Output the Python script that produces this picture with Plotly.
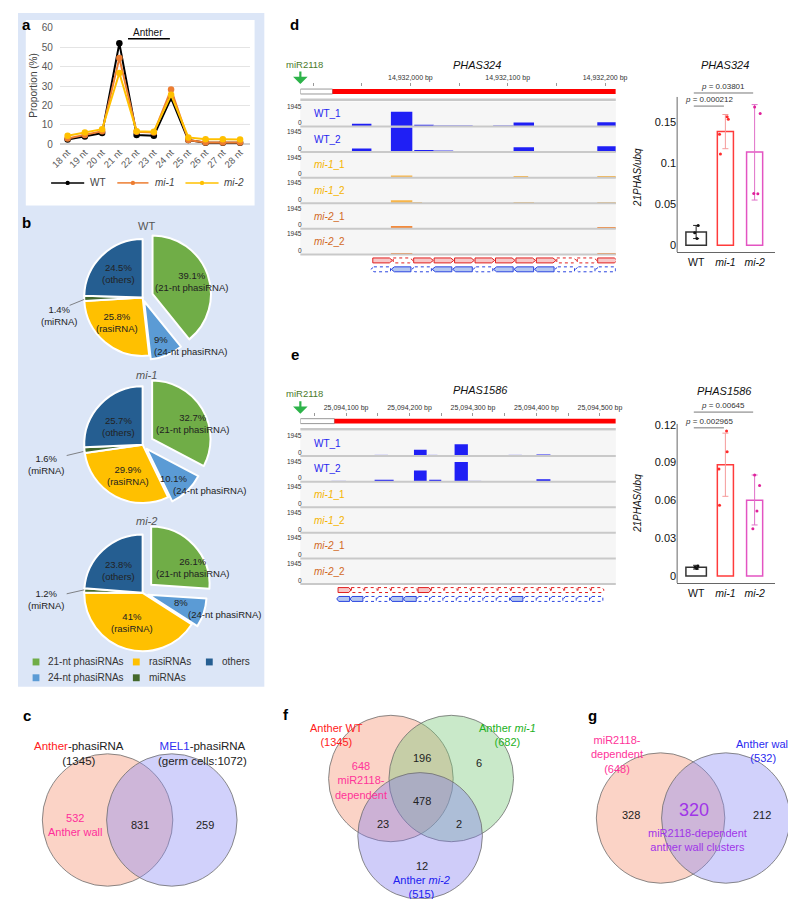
import plotly.graph_objects as go

W, H = 796, 899
FONT = "Liberation Sans, Arial, Helvetica, sans-serif"


def X(p):
    return p / W


def Y(p):
    return 1 - p / H


# ======================= DATA =======================
# panel a: size distribution
size_classes = ["18 nt", "19 nt", "20 nt", "21 nt", "22 nt", "23 nt",
                "24 nt", "25 nt", "26 nt", "27 nt", "28 nt"]
prop_wt = [2.5, 4.1, 5.8, 52.0, 4.8, 4.4, 23.8, 2.2, 0.8, 0.8, 0.8]
prop_mi1 = [3.0, 4.8, 6.8, 44.4, 6.5, 6.1, 28.2, 2.2, 1.0, 1.0, 1.0]
prop_mi2 = [4.4, 6.1, 7.8, 36.7, 6.8, 6.5, 25.5, 3.6, 2.7, 2.6, 2.5]
line_names = ["WT", "<i>mi-1</i>", "<i>mi-2</i>"]

# panel b: composition pies
pie_categories = ["21-nt phasiRNA", "24-nt phasiRNA", "rasiRNA", "miRNA", "others"]
pie_wt = [39.1, 9, 25.8, 1.4, 24.5]
pie_mi1 = [32.7, 10.1, 29.9, 1.6, 25.7]
pie_mi2 = [26.1, 8, 41, 1.2, 23.8]
pie_titles = ["WT", "<i>mi-1</i>", "<i>mi-2</i>"]
legend_b_labels = ["21-nt phasiRNAs", "rasiRNAs", "others", "24-nt phasiRNAs", "miRNAs"]

# panel c venn
venn_c_counts = [532, 831, 259]
venn_c_totals = [1345, 1072]
# panel f venn: WT only, WT&mi1, mi1 only, all, WT&mi2, mi1&mi2, mi2 only
venn_f_counts = [648, 196, 6, 478, 23, 2, 12]
venn_f_totals = [1345, 682, 515]
# panel g venn
venn_g_counts = [328, 320, 212]
venn_g_totals = [648, 532]

# qPCR panels d / e
qpcr_genotypes = ["WT", "<i>mi-1</i>", "<i>mi-2</i>"]
d_mean = [0.0161, 0.1388, 0.1138]
d_err_hi = [0.0241, 0.1597, 0.1718]
d_err_lo = [0.0080, 0.1179, 0.0551]
d_points = [[0.024, 0.015, 0.008], [0.157, 0.154, 0.1356, 0.1114], [0.169, 0.161, 0.0632, 0.0628]]
d_jitter = [[0.07, -0.05, 0.03], [0.06, 0.1, -0.2, -0.17], [0.0, 0.19, -0.03, 0.11]]
d_pvals = ["0.000212", "0.03801"]
d_p_heights = [0.170, 0.186]

e_mean = [0.0070, 0.0882, 0.0600]
e_err_hi = [0.0085, 0.1133, 0.0801]
e_err_lo = [0.0055, 0.0632, 0.0405]
e_points = [[0.008, 0.007, 0.006], [0.115, 0.0985, 0.0849, 0.0562], [0.0801, 0.0718, 0.0515, 0.0374]]
e_jitter = [[0.06, -0.04, 0.02], [0.04, 0.06, -0.22, -0.2], [0.0, 0.17, 0.08, -0.06]]
e_pvals = ["0.002965", "0.00645"]
e_p_heights = [0.1175, 0.130]

# IGV browser tracks
igv_tracks = ["WT_1", "WT_2", "<i>mi-1</i>_1", "<i>mi-1</i>_2", "<i>mi-2</i>_1", "<i>mi-2</i>_2"]
igv_max = 1945
d_view = [14931887, 14932211]
d_tick_labels = [14932000, 14932100, 14932200]
d_coverage = [
    [(14931940, 14931960, 215), (14931980, 14932002, 1170), (14932004, 14932024, 135),
     (14932024, 14932064, 70), (14932085, 14932106, 70), (14932106, 14932127, 310),
     (14932192, 14932211, 330)],
    [(14931940, 14931960, 290), (14931980, 14932002, 1945), (14932004, 14932024, 130),
     (14932024, 14932044, 80), (14932074, 14932087, 50), (14932087, 14932106, 70),
     (14932106, 14932127, 390), (14932192, 14932211, 470)],
    [(14931980, 14932002, 175), (14932106, 14932121, 70), (14932192, 14932211, 140)],
    [(14931980, 14932002, 230), (14932002, 14932012, 70), (14932106, 14932127, 70),
     (14932192, 14932211, 90)],
    [(14931980, 14932002, 230), (14932192, 14932211, 75)],
    [(14931980, 14932002, 100), (14932192, 14932211, 100)],
]
d_phase_start = 14931961
d_red_solid = [1, 0, 1, 1, 1, 1, 1, 1, 1, 0, 0, 1]
d_blue_solid = [0, 1, 0, 1, 1, 0, 1, 1, 1, 0, 0, 0]

e_view = [25094028, 25094525]
e_tick_labels = [25094100, 25094200, 25094300, 25094400, 25094500]
e_coverage = [
    [(25094145, 25094166, 78), (25094207, 25094227, 505), (25094229, 25094244, 95),
     (25094271, 25094292, 935), (25094356, 25094377, 78), (25094400, 25094422, 136)],
    [(25094077, 25094100, 78), (25094145, 25094175, 155), (25094207, 25094227, 895),
     (25094231, 25094250, 117), (25094271, 25094292, 1556), (25094292, 25094313, 78),
     (25094400, 25094422, 195)],
    [], [], [], [],
]
e_phase_start = 25094087
e_red_solid = [1, 0, 0, 0, 0, 0, 1, 0, 0, 0, 0, 0, 0, 0, 0, 0, 0, 0, 0, 0]
e_blue_solid = [1, 1, 0, 0, 1, 1, 0, 0, 0, 0, 0, 0, 0, 1, 0, 0, 0, 0, 0, 0]
phase_len = 21

# ======================= FIGURE =======================
fig = go.Figure()
shapes = []
ann = []


def text(x, y, t, size=10, color="#222", xanchor="center", yanchor="middle", angle=0,
         align="center", bold=False):
    if bold:
        t = "<b>" + t + "</b>"
    ann.append(dict(x=X(x), y=Y(y), xref="paper", yref="paper", text=t, showarrow=False,
                    font=dict(size=size, color=color, family=FONT), xanchor=xanchor,
                    yanchor=yanchor, textangle=angle, align=align))


def rect_px(x0, y0, x1, y1, fill, line=None, lw=0, layer="below"):
    shapes.append(dict(type="rect", xref="paper", yref="paper", x0=X(x0), x1=X(x1),
                       y0=Y(y1), y1=Y(y0), fillcolor=fill,
                       line=dict(color=line or fill, width=lw), layer=layer))


def line_px(x0, y0, x1, y1, color="#555", width=1):
    shapes.append(dict(type="line", xref="paper", yref="paper", x0=X(x0), x1=X(x1),
                       y0=Y(y0), y1=Y(y1), line=dict(color=color, width=width)))


def circle_px(cx, cy, r, fill, line="rgba(110,110,110,0.8)", lw=1):
    shapes.append(dict(type="circle", xref="paper", yref="paper", x0=X(cx - r), x1=X(cx + r),
                       y0=Y(cy + r), y1=Y(cy - r), fillcolor=fill,
                       line=dict(color=line, width=lw), layer="above"))


# backgrounds for a/b
rect_px(0, 0, 253, 682, "#DCE6F7")
rect_px(8, 7, 243, 195, "#FFFFFF")

# panel labels
for lab, (lx, ly) in zip("abcdefg", [(9, 12), (9, 212), (9, 711), (284, 12), (284, 346), (275, 710), (590, 711)]):
    text(lx, ly, lab, size=15, color="#000", bold=True)

# ---------------- panel a ----------------
a_colors = ["#000000", "#ED7D31", "#FFC000"]
for name, vals, col in zip(line_names, [prop_wt, prop_mi1, prop_mi2], a_colors):
    fig.add_trace(go.Scatter(x=size_classes, y=vals, name=name, mode="lines+markers",
                             line=dict(color=col, width=2), marker=dict(color=col, size=6.5),
                             cliponaxis=False, xaxis="x", yaxis="y", hoverinfo="skip",
                             showlegend=False))
text(15, 74, "Proportion (%)", size=10, color="#444", angle=-90)
text(134, 20, "Anther", size=10, color="#111")
line_px(113, 26, 156, 26, color="#000", width=1.5)
# manual legend for a
for name, col, (l0, l1, tx) in zip(line_names, a_colors, [(34, 68, 72), (102, 134, 139), (172, 206, 210)]):
    line_px(l0, 172, l1, 172, color=col, width=1.5)
    circle_px((l0 + l1) / 2, 172, 2.2, col, line=col, lw=0)
    text(tx, 172, name, size=10, color="#444", xanchor="left")

# ---------------- panel b ----------------
R = 60
CX = 128
pie_pulls = [[0.18, 0.07, 0, 0, 0], [0.19, 0.1, 0, 0, 0], [0.2, 0.1, 0, 0, 0]]
pie_cy = [288, 437, 587]
pie_title_y = [216, 366, 514]
pie_colors = ["#70AD47", "#5B9BD5", "#FFC000", "#43682B", "#255E91"]
for vals, pull, cy, title, ty in zip([pie_wt, pie_mi1, pie_mi2], pie_pulls, pie_cy, pie_titles, pie_title_y):
    s = 2 * R * (1 + max(pull))
    fig.add_trace(go.Pie(values=vals, labels=pie_categories, sort=False, direction="clockwise",
                         rotation=0, pull=pull, showlegend=False, textinfo="none", hoverinfo="skip",
                         marker=dict(colors=pie_colors, line=dict(color="white", width=2)),
                         domain=dict(x=[X(CX - s / 2), X(CX + s / 2)], y=[Y(cy + s / 2), Y(cy - s / 2)])))
    text(CX + 4, ty, title, size=11, color="#555")


def pct(v):
    return f"{v:g}%"


# pie labels: (others, 21nt, miRNA, rasiRNA)
pie_label_pos = [
    [(103, 264), (178, 272), (42, 306), (102, 313)],
    [(103, 419), (179, 416), (29, 457), (113, 468)],
    [(103, 564), (179, 561), (29, 594), (117, 617)],
]
for vals, pos in zip([pie_wt, pie_mi1, pie_mi2], pie_label_pos):
    text(*pos[0], f"{pct(vals[4])}<br>({pie_categories[4]})", size=9.5)
    text(*pos[1], f"{pct(vals[0])}<br>({pie_categories[0]})", size=9.5)
    text(*pos[2], f"{pct(vals[3])}<br>({pie_categories[3]})", size=9.5)
    text(*pos[3], f"{pct(vals[2])}<br>({pie_categories[2]})", size=9.5)
# 24-nt labels
text(138, 337, f"{pct(pie_wt[1])}<br>({pie_categories[1]})", size=9.5, xanchor="left", align="left")
text(160, 471, pct(pie_mi1[1]), size=9.5)
text(197, 483, f"({pie_categories[1]})", size=9.5)
text(167, 597, pct(pie_mi2[1]), size=9.5)
text(212, 609, f"({pie_categories[1]})", size=9.5)
# leader lines for miRNA
line_px(53, 296, 68, 290, color="#666", width=0.8)
line_px(50, 448, 67, 444, color="#666", width=0.8)
line_px(50, 588, 68, 584, color="#666", width=0.8)

# legend for b
leg_pos = [(15, 657), (118, 657), (193, 657), (15, 673), (118, 673)]
leg_cols = ["#70AD47", "#FFC000", "#255E91", "#5B9BD5", "#43682B"]
for lab, (lx, ly), col in zip(legend_b_labels, leg_pos, leg_cols):
    rect_px(lx, ly - 3.5, lx + 7, ly + 3.5, col)
    text(lx + 14, ly, lab, size=10, color="#333", xanchor="left")

# ---------------- panel c ----------------
circle_px(92, 817, 67, "rgba(245,150,120,0.42)")
circle_px(158, 817, 67, "rgba(140,140,245,0.40)")
text(63, 750, f"<span style='color:#FF2020'>Anther</span>-phasiRNA<br>({venn_c_totals[0]})", size=11.5)
text(190, 750, f"<span style='color:#3030F0'>MEL1</span>-phasiRNA<br>(germ cells:{venn_c_totals[1]})", size=11.5)
text(59, 822, f"{venn_c_counts[0]}<br>Anther wall", size=11, color="#FF2D9B")
text(125, 822, str(venn_c_counts[1]), size=11)
text(192, 822, str(venn_c_counts[2]), size=11)

# ---------------- panel f ----------------
circle_px(383, 775, 64, "rgba(245,150,120,0.42)")
circle_px(445, 775, 64, "rgba(120,200,120,0.40)")
circle_px(413, 833, 64, "rgba(130,120,240,0.38)")
text(327, 731, f"Anther WT<br>({venn_f_totals[0]})", size=11, color="#FF2020")
text(503, 731, f"Anther <i>mi-1</i><br>({venn_f_totals[1]})", size=11, color="#1DB11D")
text(414, 885, f"Anther <i>mi-2</i><br>({venn_f_totals[2]})", size=11, color="#2020F0")
text(352, 777, f"{venn_f_counts[0]}<br>miR2118-<br>dependent", size=11, color="#FF3399")
f_pos = [None, (415, 754), (473, 759), (415, 798), (375, 821), (453, 821), (415, 864)]
for cnt, p in zip(venn_f_counts, f_pos):
    if p is not None:
        text(p[0], p[1], str(cnt), size=11)

# ---------------- panel g ----------------
circle_px(660, 815, 66, "rgba(245,150,120,0.42)")
circle_px(727, 815, 66, "rgba(140,140,245,0.40)")
text(615, 751, f"miR2118-<br>dependent<br>({venn_g_totals[0]})", size=11, color="#FF3399")
text(765, 747, f"Anther wall<br>({venn_g_totals[1]})", size=11, color="#2A2AF0")
text(630, 812, str(venn_g_counts[0]), size=11)
text(694, 807, str(venn_g_counts[1]), size=18, color="#A035E8")
text(764, 812, str(venn_g_counts[2]), size=11)
text(698, 837, "miR2118-dependent<br>anther wall clusters", size=11, color="#A035E8")

# ---------------- IGV panels ----------------
TH = 25.9
track_colors = ["#1F1FF5", "#1F1FF5", "#F7B548", "#F7B548", "#F28A3C", "#F28A3C"]
track_light = ["#9A9AF2", "#9A9AF2", "#F7B548", "#F7B548", "#F28A3C", "#F28A3C"]
label_colors = ["#2626F0", "#2626F0", "#F5B400", "#F5B400", "#D2691E", "#D2691E"]
layout_axes = {}


def add_igv(n, T0, view, tick_labels, coverage, phase_start, red_solid, blue_solid, title, title_xy, split_px):
    xa, ya = f"x{n}", f"y{n}"
    xl, xr = 290, 614
    bppx = (view[1] - view[0]) / (xr - xl)
    top_u = -14 / TH
    bot_u = 175 / TH
    first = (view[0] // 50 + 1) * 50
    tickvals = list(range(first, view[1] + 1, 50))
    ticktext = [f"{v:,} bp" if v in tick_labels else "" for v in tickvals]
    layout_axes[f"xaxis{n}"] = dict(domain=[X(xl), X(xr)], range=view, anchor=ya, side="top",
                                    tickvals=tickvals, ticktext=ticktext, ticks="outside", ticklen=3,
                                    tickcolor="#999", tickfont=dict(size=7, color="#333"),
                                    showgrid=False, zeroline=False, showline=False)
    layout_axes[f"yaxis{n}"] = dict(domain=[Y(T0 + 175), Y(T0 - 14)], range=[bot_u, top_u],
                                    anchor=xa, visible=False)
    # ideogram
    split_bp = view[0] + (split_px - xl) * bppx
    shapes.append(dict(type="rect", xref=xa, yref=ya, x0=view[0], x1=split_bp, y0=-12 / TH, y1=-7 / TH,
                       fillcolor="white", line=dict(color="#999", width=1)))
    shapes.append(dict(type="rect", xref=xa, yref=ya, x0=split_bp, x1=view[1], y0=-12 / TH, y1=-7 / TH,
                       fillcolor="#FF0000", line=dict(width=0)))
    shapes.append(dict(type="line", xref=f"{xa} domain", yref=ya, x0=0, x1=1, y0=-1.2 / TH, y1=-1.2 / TH,
                       line=dict(color="#C8C8C8", width=2.5)))
    for k, tname in enumerate(igv_tracks):
        shapes.append(dict(type="rect", xref=f"{xa} domain", yref=ya, x0=0, x1=1, y0=k + 0.02, y1=k + 1,
                           fillcolor="#F6F6F6", line=dict(width=0), layer="below"))
        shapes.append(dict(type="line", xref=f"{xa} domain", yref=ya, x0=0, x1=1, y0=k + 1, y1=k + 1,
                           line=dict(color="#C9C9C9", width=2)))
        segs = coverage[k]
        if segs:
            fig.add_trace(go.Bar(
                x=[(s + e) / 2 for s, e, v in segs], width=[e - s for s, e, v in segs],
                y=[-v / igv_max * 0.96 for s, e, v in segs], base=[k + 1] * len(segs),
                marker=dict(color=[track_colors[k] if v >= 100 else track_light[k] for s, e, v in segs],
                            line=dict(width=0)),
                xaxis=xa, yaxis=ya, showlegend=False, hoverinfo="skip"))
        ann.append(dict(x=X(302), y=k + 0.5, xref="paper", yref=ya, text=tname, showarrow=False,
                        xanchor="left", font=dict(size=10, color=label_colors[k], family=FONT)))
        ann.append(dict(x=X(294), y=k + 0.2, xref="paper", yref=ya, text=str(igv_max), showarrow=False,
                        xanchor="right", font=dict(size=6.5, color="#333", family=FONT)))
        ann.append(dict(x=X(294), y=k + 0.85, xref="paper", yref=ya, text="0", showarrow=False,
                        xanchor="right", font=dict(size=6.5, color="#333", family=FONT)))
    # phasing registers
    tip = phase_len * 0.15
    for row, solid_list, y0, y1, col, fill, direction, off in [
            ("red", red_solid, 159 / TH, 164 / TH, "#E02020", "#F7C8C8", 1, 0),
            ("blue", blue_solid, 168 / TH, 173 / TH, "#2A45E0", "#B4C6F0", -1, -2)]:
        ym = (y0 + y1) / 2
        for i, sld in enumerate(solid_list):
            a = phase_start + off + i * phase_len + 0.4
            b = a + phase_len - 0.8
            if direction == 1:
                path = f"M{a},{y0} L{b - tip},{y0} L{b},{ym} L{b - tip},{y1} L{a},{y1} Z"
            else:
                path = f"M{a + tip},{y0} L{b},{y0} L{b},{y1} L{a + tip},{y1} L{a},{ym} Z"
            shapes.append(dict(type="path", xref=xa, yref=ya, path=path,
                               fillcolor=fill if sld else "white",
                               line=dict(color=col, width=1, dash="solid" if sld else "dot")))
    # miR2118 marker and title
    text(294.5, T0 - 37, "miR2118", size=9.5, color="#4A7A2A")
    ann.append(dict(x=X(290), y=Y(T0 - 17), xref="paper", yref="paper", ax=0, ay=-14, text="",
                    showarrow=True, arrowhead=1, arrowsize=1.1, arrowwidth=2.2, arrowcolor="#2DB34A"))
    text(title_xy[0], title_xy[1], f"<i>{title}</i>", size=11, color="#111")


add_igv(2, 89, d_view, d_tick_labels, d_coverage, d_phase_start, d_red_solid, d_blue_solid,
        "PHAS324", (471, 53), 323)
add_igv(3, 422.7, e_view, e_tick_labels, e_coverage, e_phase_start, e_red_solid, e_blue_solid,
        "PHAS1586", (475, 382), 325)

# ---------------- qPCR bar charts ----------------
bar_line = ["#333333", "#FF3B3B", "#E354C2"]
err_col = ["#222222", "#F59A9A", "#E070C8"]
pt_col = ["#111111", "#FF2A2A", "#E0209A"]
bar_w = [0.7, 0.55, 0.55]


def add_qpcr(n, mean, hi, lo, pts, jit, pvals, pys, title, title_y, ytitle_y,
             bottom_px, axis_top_px, domain_top_px, px_per_unit, zero_px, ytickvals):
    xa, ya = f"x{n}", f"y{n}"
    yrange = [(zero_px - bottom_px) / px_per_unit, (zero_px - domain_top_px) / px_per_unit]
    for i in range(3):
        fig.add_trace(go.Bar(x=[i], y=[mean[i]], width=bar_w[i],
                             marker=dict(color="rgba(0,0,0,0)", line=dict(color=bar_line[i], width=1.5)),
                             error_y=dict(type="data", symmetric=False, array=[hi[i] - mean[i]],
                                          arrayminus=[mean[i] - lo[i]], color=err_col[i], thickness=1, width=3),
                             xaxis=xa, yaxis=ya, showlegend=False, hoverinfo="skip"))
        fig.add_trace(go.Scatter(x=[i + j for j in jit[i]], y=pts[i], mode="markers",
                                 marker=dict(color=pt_col[i], size=3), xaxis=xa, yaxis=ya,
                                 showlegend=False, hoverinfo="skip", cliponaxis=False))
    for j, (p, yb) in enumerate(zip(pvals, pys), start=1):
        x0, x1 = -0.08, j - 0.05
        fig.add_trace(go.Scatter(x=[x0, x1], y=[yb, yb], mode="lines", line=dict(color="#777", width=1),
                                 xaxis=xa, yaxis=ya, showlegend=False, hoverinfo="skip", cliponaxis=False))
        ann.append(dict(x=(x0 + x1) / 2, y=yb, xref=xa, yref=ya, text=f"<i>p</i> = {p}", showarrow=False,
                        yanchor="bottom", font=dict(size=8, color="#333", family=FONT)))
    layout_axes[f"xaxis{n}"] = dict(domain=[X(677), X(777)], range=[-0.65, 2.68], anchor=ya,
                                    tickvals=[0, 1, 2], ticktext=qpcr_genotypes, showline=True,
                                    linecolor="#666", linewidth=1, ticks="", showgrid=False, zeroline=False,
                                    tickfont=dict(size=10.5, color="#111"))
    layout_axes[f"yaxis{n}"] = dict(domain=[Y(bottom_px), Y(domain_top_px)], range=yrange, anchor=xa,
                                    tickvals=ytickvals, ticktext=[f"{v:g}" for v in ytickvals],
                                    showline=False, ticks="",
                                    showgrid=False, zeroline=False, tickfont=dict(size=11, color="#111"))
    # visible y-axis line (shorter than the domain, which also holds the p brackets)
    line_px(677, bottom_px, 677, axis_top_px, color="#666", width=1)
    text(726, title_y, f"<i>{title}</i>", size=11, color="#111")
    text(637, ytitle_y, "<i>21PHAS/ubq</i>", size=10, color="#111", angle=-90)


add_qpcr(4, d_mean, d_err_hi, d_err_lo, d_points, d_jitter, d_pvals, d_p_heights,
         "PHAS324", 53, 167, 242, 85, 68, 41.4 / 0.05, 235, [0, 0.05, 0.1, 0.15])
add_qpcr(5, e_mean, e_err_hi, e_err_lo, e_points, e_jitter, e_pvals, e_p_heights,
         "PHAS1586", 383, 497, 577, 416, 392, 38.3 / 0.03, 570, [0, 0.03, 0.06, 0.09, 0.12])

fig.update_layout(
    width=W, height=H, margin=dict(l=0, r=0, t=0, b=0),
    paper_bgcolor="white", plot_bgcolor="rgba(0,0,0,0)", barmode="overlay",
    font=dict(family=FONT, size=10, color="#222"),
    showlegend=False,
    xaxis=dict(domain=[X(43), X(238)], type="category", categoryorder="array", categoryarray=size_classes,
               range=[-0.45, 10.56], tickangle=-45, showgrid=False, zeroline=False, showline=False,
               ticks="", tickfont=dict(size=9.5, color="#595959"), anchor="y"),
    yaxis=dict(domain=[Y(133), Y(15)], range=[0, 60], dtick=10, tick0=0, showgrid=True,
               gridcolor="#E4E4E4", zeroline=True, zerolinecolor="#D0D0D0", zerolinewidth=1.5,
               showline=False, ticks="", tickfont=dict(size=10, color="#595959"), anchor="x",
               ticklabelstandoff=6),
    shapes=shapes, annotations=ann,
    **layout_axes,
)

fig.write_html("out.html")
